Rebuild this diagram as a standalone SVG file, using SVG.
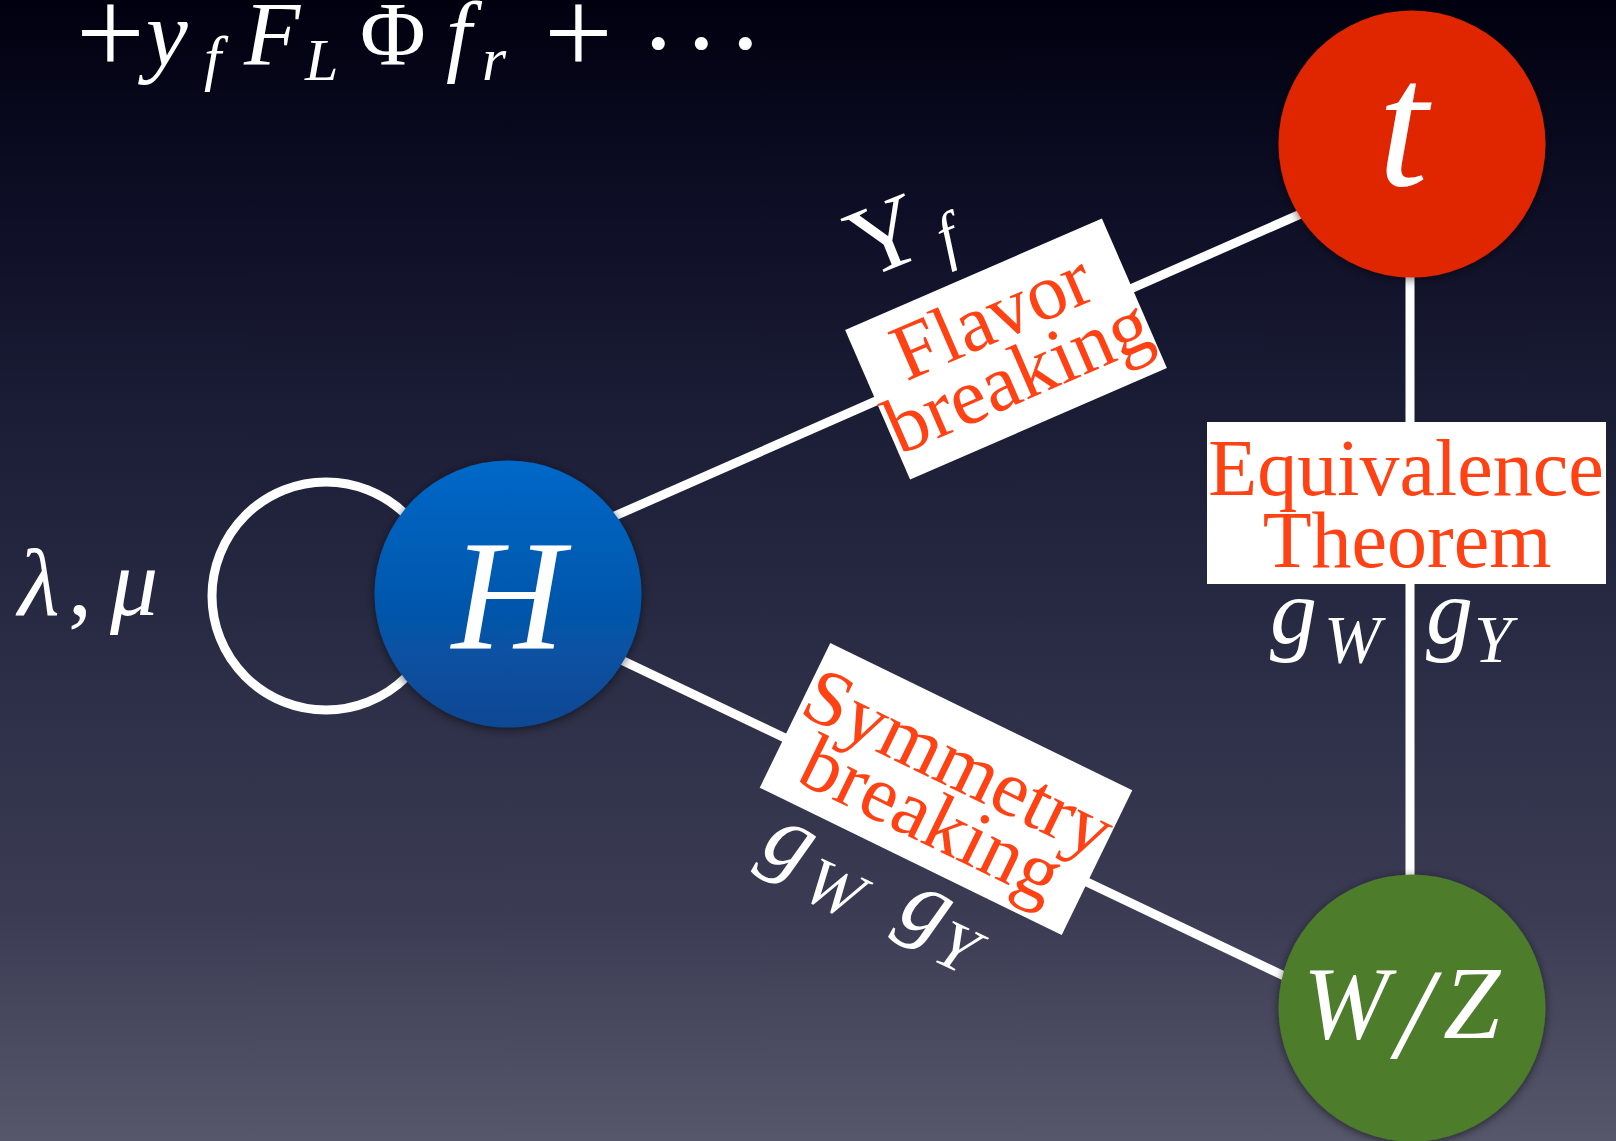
<svg xmlns="http://www.w3.org/2000/svg" width="1616" height="1141" viewBox="0 0 1616 1141">
<defs>
  <linearGradient id="bg" x1="0" y1="0" x2="0" y2="1">
    <stop offset="0" stop-color="#00000f"/>
    <stop offset="0.2" stop-color="#0f1028"/>
    <stop offset="0.5" stop-color="#252740"/>
    <stop offset="0.8" stop-color="#3b3c54"/>
    <stop offset="1" stop-color="#56576a"/>
  </linearGradient>
  <linearGradient id="blue" x1="0" y1="0" x2="0" y2="1">
    <stop offset="0" stop-color="#0068c8"/>
    <stop offset="1" stop-color="#0a4893"/>
  </linearGradient>
  <filter id="sh" x="-20%" y="-20%" width="140%" height="140%">
    <feDropShadow dx="0" dy="2" stdDeviation="5" flood-color="#000" flood-opacity="0.55"/>
  </filter>
</defs>
<style>
  .ln{stroke:#fff;stroke-width:9;fill:none}
  .box{fill:#fff}
  .red{fill:#ff4114;font-family:"Liberation Serif","Times New Roman",serif;font-size:80px;text-anchor:middle}
  .m{fill:#fff;font-family:"Liberation Serif","Times New Roman",serif;font-style:italic}
  .r{font-style:normal}
</style>
<rect x="0" y="0" width="1616" height="1141" fill="url(#bg)"/>

<g id="formula" class="m">
  <text font-size="88">
    <tspan class="r" x="76" y="74" font-size="122">+</tspan>
    <tspan x="146" y="65" font-size="94">y</tspan>
    <tspan x="204" y="79" font-size="62">f</tspan>
    <tspan x="244" y="65" font-size="92">F</tspan>
    <tspan x="305" y="80" font-size="60">L</tspan>
    <tspan class="r" x="360" y="65" font-size="90">Φ</tspan>
    <tspan x="446" y="65" font-size="92">f</tspan>
    <tspan x="482" y="80" font-size="62">r</tspan>
    <tspan class="r" x="544" y="74" font-size="122">+</tspan>
    <tspan class="r" x="640" y="80" font-size="110">·</tspan>
    <tspan class="r" x="683" y="80" font-size="110">·</tspan>
    <tspan class="r" x="727" y="80" font-size="110">·</tspan>
  </text>
</g>

<g id="connectors">
  <circle id="loop" class="ln" cx="326" cy="596" r="114" stroke-width="10"/>
  <line class="ln" x1="508" y1="563" x2="1412" y2="165"/>
  <line class="ln" x1="508" y1="606" x2="1412" y2="1037"/>
  <line class="ln" x1="1410" y1="143" x2="1410" y2="1008"/>
</g>

<g id="node-t">
  <circle cx="1412" cy="144" r="133.5" fill="#e02500" filter="url(#sh)"/>
  <text class="m" x="1403" y="185" font-size="180" text-anchor="middle">t</text>
</g>

<g id="node-H">
  <circle cx="508" cy="594" r="133.5" fill="url(#blue)" filter="url(#sh)"/>
  <text class="m" x="508" y="648" font-size="156" text-anchor="middle">H</text>
</g>

<g id="node-WZ">
  <circle cx="1412" cy="1008" r="133.5" fill="#4e7b2a" filter="url(#sh)"/>
  <text class="m" font-size="103">
    <tspan x="1303" y="1038">W</tspan>
    <tspan x="1396" y="1058" font-size="130">/</tspan>
    <tspan x="1443" y="1038">Z</tspan>
  </text>
</g>

<g id="box-flavor" transform="translate(1006,349) rotate(-23.5)">
  <rect class="box" x="-140" y="-81.5" width="280" height="163"/>
  <text class="red" x="0" y="-10">Flavor</text>
  <text class="red" x="0" y="55">breaking</text>
</g>

<g id="box-symmetry" transform="translate(946,789) rotate(26)">
  <rect class="box" x="-168" y="-80.5" width="336" height="161"/>
  <text class="red" x="0" y="-3">Symmetry</text>
  <text class="red" x="0" y="59">breaking</text>
</g>

<g id="box-equivalence">
  <rect class="box" x="1207" y="422" width="399" height="162"/>
  <text class="red" x="1406" y="495">Equivalence</text>
  <text class="red" x="1407" y="567">Theorem</text>
</g>

<g id="label-lambda-mu" class="m">
  <text font-size="96">
    <tspan x="18" y="615">λ</tspan>
    <tspan class="r" x="68" y="615">,</tspan>
    <tspan x="110" y="615">μ</tspan>
  </text>
</g>

<g id="label-Yf" class="m" transform="translate(864,280) rotate(-22)">
  <text font-size="100">
    <tspan class="r" x="0" y="0">Y</tspan>
    <tspan x="84" y="12" font-size="64">f</tspan>
  </text>
</g>

<g id="label-g-diag" class="m" transform="translate(758,856) rotate(25.5)">
  <text font-size="94">
    <tspan x="0" y="0">g</tspan>
    <tspan x="54" y="19" font-size="68">W</tspan>
    <tspan x="152" y="0">g</tspan>
    <tspan x="200" y="19" font-size="68">Y</tspan>
  </text>
</g>

<g id="label-g-right" class="m">
  <text font-size="94">
    <tspan x="1270" y="643">g</tspan>
    <tspan x="1324" y="662" font-size="68">W</tspan>
    <tspan x="1426" y="643">g</tspan>
    <tspan x="1474" y="662" font-size="68">Y</tspan>
  </text>
</g>
</svg>
